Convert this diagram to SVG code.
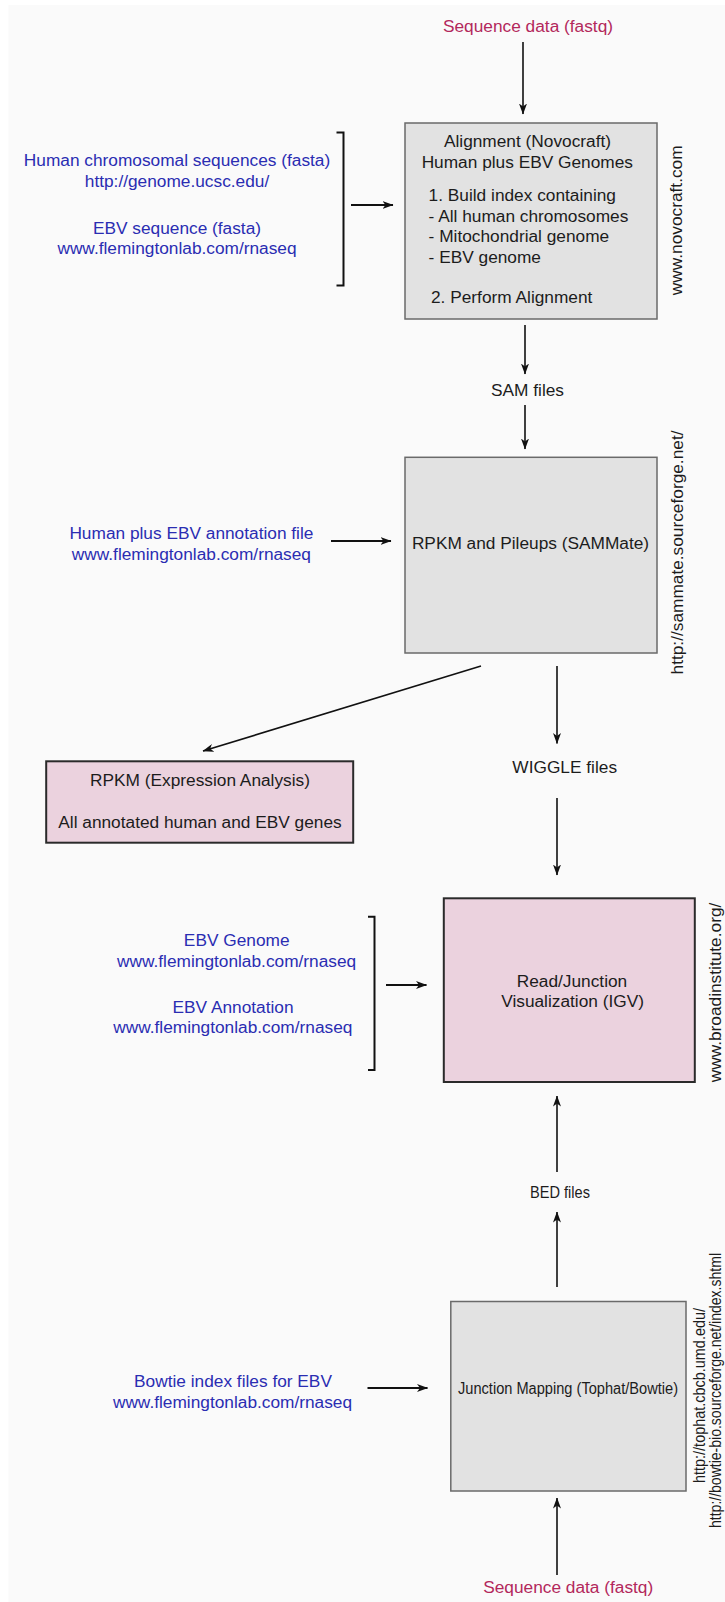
<svg xmlns="http://www.w3.org/2000/svg" width="725" height="1602" viewBox="0 0 725 1602">
<style>
text{font-family:"Liberation Sans",Arial,Helvetica,sans-serif;font-size:17.3px;fill:#1c1c1c}
.c{text-anchor:middle}
.blue{fill:#2a2db2}
.red{fill:#b3285c}
.gbox{fill:#e2e2e2;stroke:#6a6a6a;stroke-width:1.5}
.pbox{fill:#ebd2de;stroke:#2a2a2a;stroke-width:2}
.ln{fill:none;stroke:#111;stroke-width:1.6}
.lnh{fill:none;stroke:#111;stroke-width:2.2}
.br{fill:none;stroke:#111;stroke-width:2}
</style>
<defs>
<marker id="ah" markerUnits="userSpaceOnUse" markerWidth="11" markerHeight="8" refX="10.5" refY="4" orient="auto">
<path d="M0,0 L11,4 L0,8 L3,4 z" fill="#111"/>
</marker>
</defs>
<rect x="0" y="0" width="725" height="1602" fill="#ffffff"/>
<rect x="8.5" y="5" width="716.5" height="1597" fill="#fafafa"/>

<g id="connectors">
<line class="ln" x1="523" y1="42" x2="523" y2="114" marker-end="url(#ah)"/>
<line class="lnh" x1="351" y1="205" x2="393" y2="205" marker-end="url(#ah)"/>
<line class="ln" x1="525" y1="325" x2="525" y2="374" marker-end="url(#ah)"/>
<line class="ln" x1="525" y1="405" x2="525" y2="449" marker-end="url(#ah)"/>
<line class="lnh" x1="331" y1="541" x2="391" y2="541" marker-end="url(#ah)"/>
<line class="ln" x1="481" y1="666" x2="203" y2="751" marker-end="url(#ah)"/>
<line class="ln" x1="557" y1="666" x2="557" y2="743.5" marker-end="url(#ah)"/>
<line class="ln" x1="557" y1="798" x2="557" y2="875" marker-end="url(#ah)"/>
<line class="lnh" x1="386" y1="985" x2="426.5" y2="985" marker-end="url(#ah)"/>
<line class="ln" x1="557" y1="1172" x2="557" y2="1096" marker-end="url(#ah)"/>
<line class="ln" x1="557" y1="1287" x2="557" y2="1212" marker-end="url(#ah)"/>
<line class="lnh" x1="367.5" y1="1388" x2="427.5" y2="1388" marker-end="url(#ah)"/>
<line class="ln" x1="557" y1="1575" x2="557" y2="1498" marker-end="url(#ah)"/>
</g>

<g id="seq_top">
<text class="c red" x="528" y="32.3">Sequence data (fastq)</text>
</g>

<g id="genome_inputs">
<text class="c blue" x="177" y="166">Human chromosomal sequences (fasta)</text>
<text class="c blue" x="177" y="186.7">http://genome.ucsc.edu/</text>
<text class="c blue" x="177" y="234">EBV sequence (fasta)</text>
<text class="c blue" x="177" y="254.3">www.flemingtonlab.com/rnaseq</text>
<path class="br" d="M336.5,132.5 H343.5 V285.5 H336.5"/>
</g>

<g id="alignment">
<rect class="gbox" x="405" y="123" width="252" height="196"/>
<text class="c" x="527.5" y="147">Alignment (Novocraft)</text>
<text class="c" x="527.3" y="167.7">Human plus EBV Genomes</text>
<text x="428.6" y="201">1. Build index containing</text>
<text x="428.6" y="221.7">- All human chromosomes</text>
<text x="428.6" y="242.3">- Mitochondrial genome</text>
<text x="428.6" y="263.3">- EBV genome</text>
<text x="431" y="303.3">2. Perform Alignment</text>
<text class="c" transform="translate(682,220.3) rotate(-90)">www.novocraft.com</text>
</g>

<g id="sam_files">
<text class="c" x="527.5" y="395.7">SAM files</text>
</g>

<g id="annotation_input">
<text class="c blue" x="191.4" y="539">Human plus EBV annotation file</text>
<text class="c blue" x="191.4" y="560">www.flemingtonlab.com/rnaseq</text>
</g>

<g id="sammate">
<rect class="gbox" x="405" y="457.3" width="252" height="195.7"/>
<text class="c" x="530.5" y="549">RPKM and Pileups (SAMMate)</text>
<text class="c" transform="translate(682.5,552.5) rotate(-90)">http://sammate.sourceforge.net/</text>
</g>

<g id="rpkm">
<rect class="pbox" x="46.2" y="761.3" width="307" height="81.4"/>
<text class="c" x="200" y="786">RPKM (Expression Analysis)</text>
<text class="c" x="200" y="827.7">All annotated human and EBV genes</text>
</g>

<g id="wiggle_files">
<text class="c" x="564.7" y="773.3">WIGGLE files</text>
</g>

<g id="igv_inputs">
<text class="c blue" x="236.7" y="946">EBV Genome</text>
<text class="c blue" x="236.6" y="967.3">www.flemingtonlab.com/rnaseq</text>
<text class="c blue" x="233" y="1012.7">EBV Annotation</text>
<text class="c blue" x="232.8" y="1033.3">www.flemingtonlab.com/rnaseq</text>
<path class="br" d="M368,916.7 H374.5 V1070 H368"/>
</g>

<g id="igv">
<rect class="pbox" x="443.8" y="898.3" width="251" height="183.7"/>
<text class="c" x="572" y="986.7">Read/Junction</text>
<text class="c" x="572.6" y="1006.7">Visualization (IGV)</text>
<text class="c" transform="translate(720.5,992.5) rotate(-90)">www.broadinstitute.org/</text>
</g>

<g id="bed_files">
<text class="c" x="560" y="1198.3" textLength="60" lengthAdjust="spacingAndGlyphs">BED files</text>
</g>

<g id="bowtie_input">
<text class="c blue" x="233" y="1387.3">Bowtie index files for EBV</text>
<text class="c blue" x="232.5" y="1408.3">www.flemingtonlab.com/rnaseq</text>
</g>

<g id="tophat">
<rect class="gbox" x="450.8" y="1301.5" width="235.2" height="189.5"/>
<text class="c" x="568" y="1394.3" textLength="220" lengthAdjust="spacingAndGlyphs">Junction Mapping (Tophat/Bowtie)</text>
<text class="c" transform="translate(705,1395.5) rotate(-90)" textLength="175" lengthAdjust="spacingAndGlyphs">http://tophat.cbcb.umd.edu/</text>
<text class="c" transform="translate(720.5,1390.5) rotate(-90)" textLength="275" lengthAdjust="spacingAndGlyphs" style="font-size:16.5px">http://bowtie-bio.sourceforge.net/index.shtml</text>
</g>

<g id="seq_bottom">
<text class="c red" x="568.2" y="1593.3">Sequence data (fastq)</text>
</g>
</svg>
